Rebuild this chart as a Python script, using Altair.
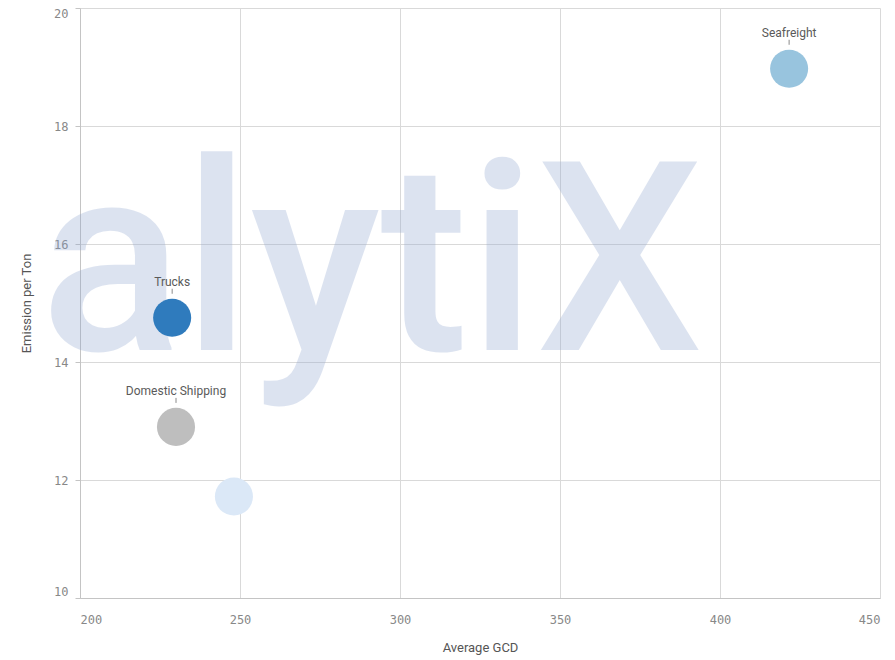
import altair as alt
import pandas as pd

categories = ["Seafreight", "Trucks", "Domestic Shipping", "Other"]
labels = ["Seafreight", "Trucks", "Domestic Shipping", ""]
avg_gcd = [421.6, 228.8, 230.0, 248.1]
emission = [18.97, 14.75, 12.90, 11.72]
colors = ["#98c4de", "#2f7bbd", "#bebebe", "#dbe8f7"]

df = pd.DataFrame({"cat": categories, "label": labels, "x": avg_gcd, "y": emission})
lab_df = df[df["label"] != ""]

xs = alt.Scale(domain=[200, 450], nice=False, zero=False)
ys = alt.Scale(domain=[10, 20], nice=False, zero=False)

x_axis = alt.Axis(values=[200, 250, 300, 350, 400, 450], title="Average GCD", format="d",
                  labelFlush=True, tickSize=0, labelPadding=16, titlePadding=16)
y_axis = alt.Axis(values=[10, 12, 14, 16, 18, 20], title="Emission per Ton", format="d",
                  labelFlush=True, tickSize=5, labelPadding=7, titlePadding=20)

base = alt.Chart(df)

watermark = alt.Chart(pd.DataFrame({"t": ["alytiX"]})).mark_text(
    font="Roboto", fontWeight=500, fontSize=265, align="left", baseline="alphabetic",
    color="#8ea5d0", opacity=0.3
).encode(text="t:N", x=alt.value(-40), y=alt.value(342))

bubbles = base.mark_circle(opacity=1, size=1450).encode(
    x=alt.X("x:Q", scale=xs, axis=x_axis),
    y=alt.Y("y:Q", scale=ys, axis=y_axis),
    color=alt.Color("cat:N", scale=alt.Scale(domain=categories, range=colors), legend=None),
)

ticks = alt.Chart(lab_df).mark_rule(color="#8a8a8a", yOffset=-24, y2Offset=-29, strokeWidth=1).encode(
    x="x:Q", y="y:Q", y2="y"
)

texts = alt.Chart(lab_df).mark_text(font="Roboto", fontSize=12, color="#5a5a5a", dy=-36).encode(
    x="x:Q", y="y:Q", text="label:N"
)

chart = alt.layer(watermark, bubbles, ticks, texts).properties(
    width=800, height=590,
    autosize=alt.AutoSizeParams(type="none"),
    padding={"left": 72, "top": 0, "right": 7, "bottom": 58},
).configure_view(stroke=None).configure_axis(
    gridColor="#d9d9d9", domainColor="#c4c4c4", tickColor="#c4c4c4",
    labelFont="DejaVu Sans Mono", labelFontSize=12, labelColor="#888888",
    titleFont="Roboto", titleFontSize=13, titleColor="#555555", titleFontWeight="normal",
)

chart.save("out.html", embed_options={"renderer": "svg", "actions": False})
